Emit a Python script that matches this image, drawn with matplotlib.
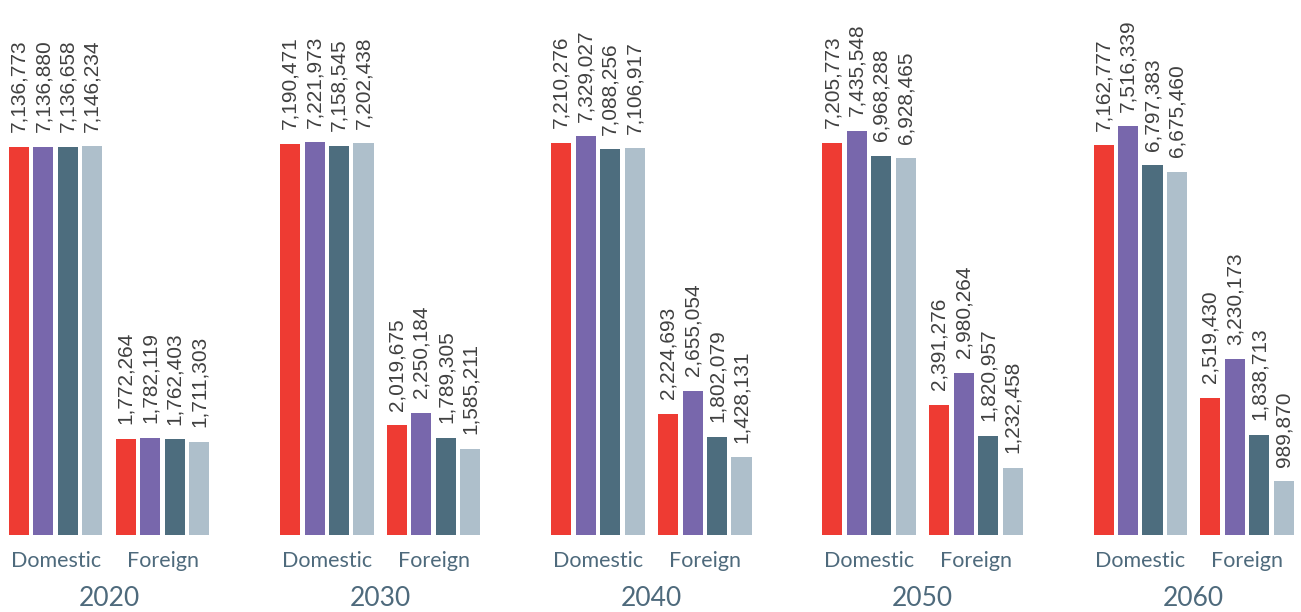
import matplotlib.pyplot as plt
import matplotlib.transforms as mtransforms

years = ["2020", "2030", "2040", "2050", "2060"]
groups = ["Domestic", "Foreign"]

# four scenarios per group, one value per year
domestic = [
    [7136773, 7136880, 7136658, 7146234],
    [7190471, 7221973, 7158545, 7202438],
    [7210276, 7329027, 7088256, 7106917],
    [7205773, 7435548, 6968288, 6928465],
    [7162777, 7516339, 6797383, 6675460],
]
foreign = [
    [1772264, 1782119, 1762403, 1711303],
    [2019675, 2250184, 1789305, 1585211],
    [2224693, 2655054, 1802079, 1428131],
    [2391276, 2980264, 1820957, 1232458],
    [2519430, 3230173, 1838713, 989870],
]

colors = ["#EE3B33", "#7867AC", "#4D6D7E", "#AEBFCB"]
label_color = "#4E6A7C"

fig = plt.figure(figsize=(13.01, 6.12), dpi=100)
ax = fig.add_axes([0, (612 - 535) / 612, 1, 535 / 612])

year_step = 11.09
foreign_offset = 4.37
bar_w = 0.82

for k, year in enumerate(years):
    base = k * year_step
    for g, data in enumerate([domestic[k], foreign[k]]):
        start = base + g * foreign_offset
        for i, v in enumerate(data):
            x = start + i
            ax.bar(x, v, width=bar_w, color=colors[i], linewidth=0)
            ax.annotate(f"{v:,}", (x, v), xytext=(0, 10.5), textcoords="offset points",
                        rotation=90, ha="center", va="bottom", fontsize=15,
                        family="Liberation Sans", color="#404040")
        trans = mtransforms.blended_transform_factory(ax.transData, fig.transFigure)
        ax.text(start + 1.5, 0.083, groups[g], transform=trans, ha="center", va="center",
                fontsize=15.5, family="Lato", color=label_color)
    trans = mtransforms.blended_transform_factory(ax.transData, fig.transFigure)
    ax.text(base + (foreign_offset + 3) / 2, 0.022, year, transform=trans, ha="center",
            va="center", fontsize=19, family="Lato", color=label_color)

px = 24.45
ax.set_xlim(-19 / px, 1282 / px)
ax.set_ylim(0, 535 / 54.4 * 1e6)
ax.axis("off")

fig.savefig("out.png", dpi=100)
